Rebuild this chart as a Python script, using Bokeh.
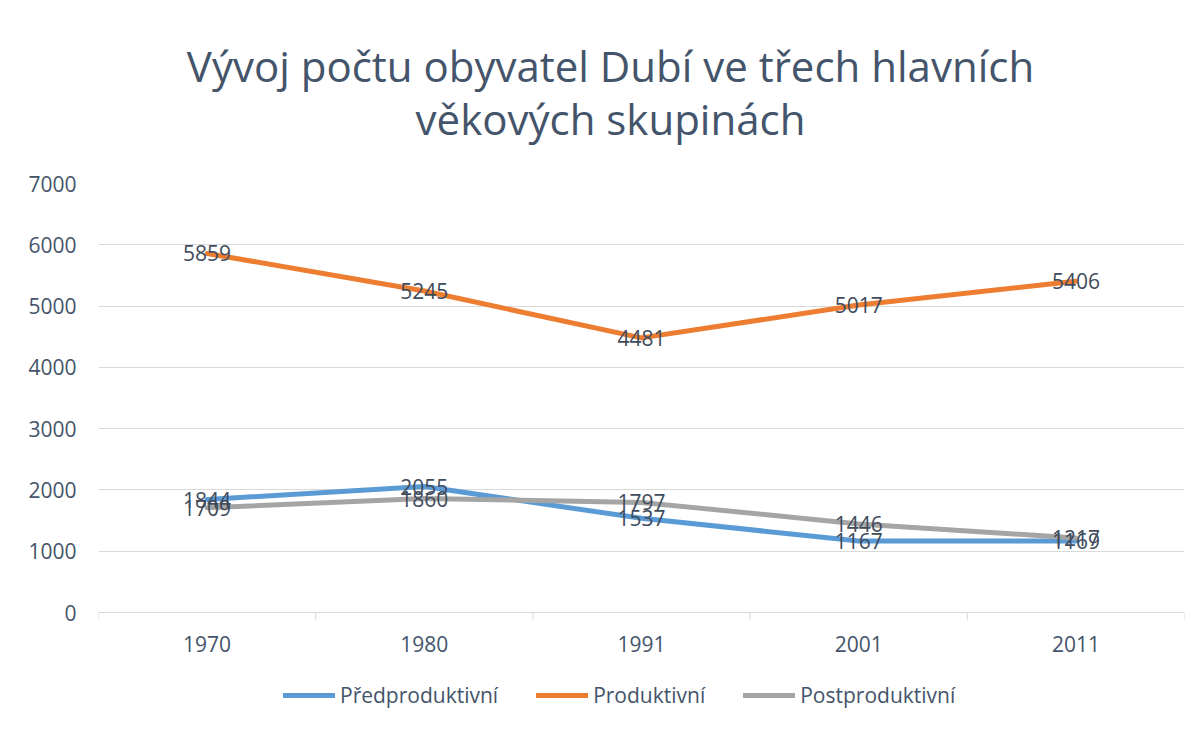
from bokeh.plotting import figure
from bokeh.layouts import column
from bokeh.models import FactorRange, Range1d, FixedTicker, Legend, LegendItem, ColumnDataSource
from bokeh.core.properties import value
from bokeh.embed import file_html
from bokeh.resources import INLINE

years = ["1970", "1980", "1991", "2001", "2011"]
predproduktivni = [1844, 2055, 1537, 1167, 1169]
produktivni = [5859, 5245, 4481, 5017, 5406]
postproduktivni = [1709, 1860, 1797, 1446, 1217]
y_ticks = [0, 1000, 2000, 3000, 4000, 5000, 6000, 7000]
title_lines = ["Vývoj počtu obyvatel Dubí ve třech hlavních", "věkových skupinách"]

series = [
    ("Předproduktivní", predproduktivni, "#5b9bd5"),
    ("Produktivní", produktivni, "#ed7d31"),
    ("Postproduktivní", postproduktivni, "#a5a5a5"),
]

FONT = "Open Sans"
TXT = "#44546a"
FS = "21px"
W = 1200
LEFT, RIGHT = 98, 16

# ---- title strip (screen-like coordinates: x, y in page pixels) ----
pt = figure(width=W, height=170, x_range=Range1d(LEFT, W - RIGHT), y_range=Range1d(170, 0),
            output_backend="svg", toolbar_location=None,
            x_axis_location=None, y_axis_location=None,
            min_border_left=LEFT, min_border_right=RIGHT, min_border_top=0, min_border_bottom=0)
pt.outline_line_color = None
pt.grid.grid_line_color = None
pt.text(x=[610, 610], y=[65, 118], text=title_lines, text_align="center",
        text_baseline="alphabetic", text_font=value(FONT), text_font_size="42px",
        text_color=TXT)

# ---- main chart ----
p = figure(
    width=W, height=490,
    x_range=FactorRange(factors=years, range_padding=0),
    y_range=Range1d(-130, 7000),
    output_backend="svg", toolbar_location=None,
    min_border_left=LEFT, min_border_right=RIGHT, min_border_top=13, min_border_bottom=40,
)
p.outline_line_color = None
p.background_fill_color = "white"
p.border_fill_color = "white"

p.yaxis.ticker = FixedTicker(ticks=y_ticks)
p.yaxis.axis_line_color = None
p.yaxis.major_tick_line_color = None
p.yaxis.minor_tick_line_color = None
p.yaxis.major_label_standoff = 16
p.yaxis.major_label_text_font = FONT
p.yaxis.major_label_text_font_size = FS
p.yaxis.major_label_text_color = TXT

p.xaxis.axis_line_color = None
p.xaxis.major_tick_line_color = None
p.xaxis.major_label_standoff = 9
p.xaxis.major_label_text_font = FONT
p.xaxis.major_label_text_font_size = FS
p.xaxis.major_label_text_color = TXT

p.xgrid.grid_line_color = None
p.ygrid.ticker = FixedTicker(ticks=y_ticks)
p.ygrid.grid_line_color = "#d9d9d9"
p.ygrid.grid_line_width = 1

# category boundary tick marks below the zero line
bounds = list(range(len(years) + 1))
p.segment(x0=bounds, y0=[0] * len(bounds), x1=bounds, y1=[-130] * len(bounds),
          line_color="#d9d9d9", line_width=1)

for name, vals, col in series:
    p.line(years, vals, line_color=col, line_width=5, line_cap="round", line_join="round")

for name, vals, col in series:
    src = ColumnDataSource(dict(x=years, y=vals, t=[str(v) for v in vals]))
    p.text(x="x", y="y", text="t", source=src, text_align="center", text_baseline="middle",
           text_font=value(FONT), text_font_size=FS, text_color="#404b5c")

# ---- legend strip ----
pl = figure(width=W, height=68, x_range=Range1d(0, 1), y_range=Range1d(0, 1),
            output_backend="svg", toolbar_location=None,
            x_axis_location=None, y_axis_location=None,
            min_border_left=LEFT, min_border_right=RIGHT, min_border_top=0, min_border_bottom=0)
pl.outline_line_color = None
pl.grid.grid_line_color = None
items = []
for name, vals, col in series:
    # stand-in renderer (outside the visible range) that only supplies the legend swatch
    r = pl.line(x=[5, 6], y=[5, 5], line_color=col, line_width=5, line_cap="round")
    items.append(LegendItem(label=name, renderers=[r]))
legend = Legend(items=items, orientation="horizontal", location=(185, 19),
                label_text_font=FONT, label_text_font_size=FS, label_text_color=TXT,
                glyph_width=52, glyph_height=20, label_standoff=5, spacing=38,
                padding=0, margin=0, border_line_alpha=0, background_fill_alpha=0)
pl.add_layout(legend, "center")

layout = column(pt, p, pl, spacing=0)
open("out.html", "w").write(file_html(layout, INLINE))
